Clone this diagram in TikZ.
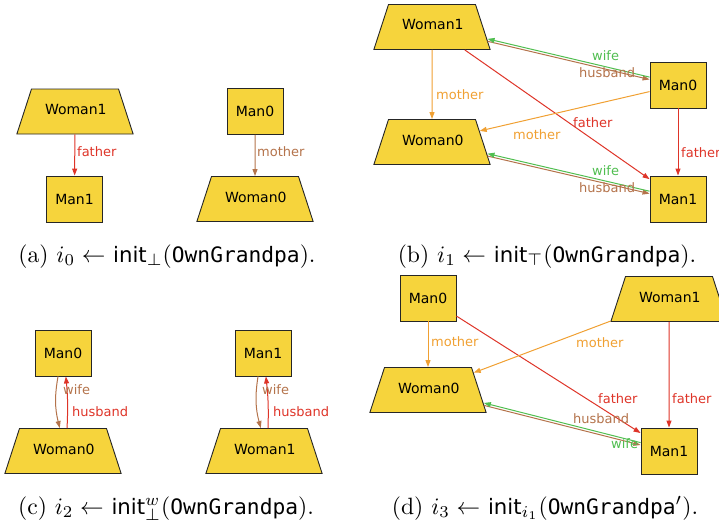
\documentclass[tikz,border=0pt]{standalone}
\usepackage{fontspec}
\newfontfamily\nodefont{DejaVu Sans}
\newfontfamily\capsf[Scale=0.9]{DejaVu Sans}
\newfontfamily\captt[Scale=0.9]{DejaVu Sans Mono}
\usetikzlibrary{arrows.meta,shapes.geometric}
\definecolor{relred}{RGB}{222,52,40}
\definecolor{relorange}{RGB}{240,160,50}
\definecolor{relbrown}{RGB}{180,115,75}
\definecolor{relgreen}{RGB}{80,190,80}
\definecolor{nodeyellow}{RGB}{246,212,60}
\tikzset{
      person/.style = { draw=black!85, fill=nodeyellow, line width=0.9pt,
                        font=\nodefont\fontsize{14}{16}\selectfont },
         man/.style = { person, inner sep=0pt, minimum width=56pt, minimum height=46pt },
       woman/.style = { person, trapezium, trapezium left angle=72, trapezium right angle=72,
                        text width=60pt, align=center, text height=9pt, text depth=3pt,
                        inner xsep=13.5pt, inner ysep=16.5pt },
         rel/.style = { line width=1pt, -{Triangle[length=7pt,width=5pt]} },
      father/.style = { rel, relred },
      mother/.style = { rel, relorange },
    brownrel/.style = { rel, relbrown },
    greenrel/.style = { rel, relgreen },
    edgetext/.style = { anchor=west, inner sep=0pt, font=\nodefont\fontsize{13}{15}\selectfont },
     caption/.style = { anchor=base, inner sep=0pt, scale=2.36, font=\normalsize }
}

\begin{document}
\begin{tikzpicture}[x=1pt, y=-1pt]
  \useasboundingbox (0,0) rectangle (719,527);

  % (a)
  \node (a-w1) at (75,111.5)  [woman] {Woman1};
  \node (a-m1) at (74.5,199)  [man]   {Man1};
  \node (a-m0) at (255,111.5) [man]   {Man0};
  \node (a-w0) at (255,199)   [woman] {Woman0};

  \draw [father]   (a-w1) -- (a-m1);
  \draw [brownrel] (a-m0) -- (a-w0);
  \node (a-lf) at (77,152)  [edgetext, text=relred]   {father};
  \node (a-lm) at (257,152) [edgetext, text=relbrown] {mother};

  \node (a-cap) at (167,262) [caption]
    {(a) $i_0 \leftarrow$ {\capsf init}$_\bot$({\captt OwnGrandpa}).};

  % (b)
  \node (b-w1) at (432,27)  [woman] {Woman1};
  \node (b-m0) at (678,85)  [man]   {Man0};
  \node (b-w0) at (432,142) [woman] {Woman0};
  \node (b-m1) at (678,199) [man]   {Man1};

  \draw [mother] (b-w1) -- (b-w0);
  \draw [father] (b-w1) -- (b-m1);
  \draw [mother] (b-m0) -- (b-w0);
  \draw [father] (b-m0) -- (b-m1);
  \draw [brownrel, transform canvas={yshift=-1.2pt}] (b-w1) -- (b-m0);
  \draw [greenrel, transform canvas={yshift=1.2pt}]  (b-m0) -- (b-w1);
  \draw [brownrel, transform canvas={yshift=-1.2pt}] (b-w0) -- (b-m1);
  \draw [greenrel, transform canvas={yshift=1.2pt}]  (b-m1) -- (b-w0);

  \node (b-lm1) at (436,95)  [edgetext, text=relorange] {mother};
  \node (b-lf1) at (573,123) [edgetext, text=relred]    {father};
  \node (b-lm2) at (513,135) [edgetext, text=relorange] {mother};
  \node (b-lf2) at (681,153) [edgetext, text=relred]    {father};
  \node (b-lw1) at (592,56)  [edgetext, text=relgreen]  {wife};
  \node (b-lh1) at (579,73)  [edgetext, text=relbrown]  {husband};
  \node (b-lw2) at (592,171) [edgetext, text=relgreen]  {wife};
  \node (b-lh2) at (579,188) [edgetext, text=relbrown]  {husband};

  \node (b-cap) at (547,262) [caption]
    {(b) $i_1 \leftarrow$ {\capsf init}$_\top$({\captt OwnGrandpa}).};

  % (c)
  \node (c-m0) at (63,353)  [man]   {Man0};
  \node (c-w0) at (63,451)  [woman] {Woman0};
  \node (c-m1) at (263,353) [man]   {Man1};
  \node (c-w1) at (264,451) [woman] {Woman1};

  \draw [brownrel] (c-m0.-102) to[bend right=12] (c-w0.98);
  \draw [father]   (c-w0.80)   to[bend right=4]  (c-m0.-83);
  \draw [brownrel] (c-m1.-102) to[bend right=12] (c-w1.98);
  \draw [father]   (c-w1.80)   to[bend right=4]  (c-m1.-83);

  \node (c-lw1) at (63,390)  [edgetext, text=relbrown] {wife};
  \node (c-lh1) at (72,412)  [edgetext, text=relred]   {husband};
  \node (c-lw2) at (262,390) [edgetext, text=relbrown] {wife};
  \node (c-lh2) at (273,412) [edgetext, text=relred]   {husband};

  \node (c-cap) at (166,514) [caption]
    {(c) $i_2 \leftarrow$ {\capsf init}$^w_\bot$({\captt OwnGrandpa}).};

  % (d)
  \node (d-m0) at (428,298) [man]   {Man0};
  \node (d-w1) at (669,299) [woman] {Woman1};
  \node (d-w0) at (428,390) [woman] {Woman0};
  \node (d-m1) at (669,451) [man]   {Man1};

  \draw [mother] (d-m0) -- (d-w0);
  \draw [father] (d-m0) -- (d-m1);
  \draw [mother] (d-w1) -- (d-w0);
  \draw [father] (d-w1) -- (d-m1);
  \draw [brownrel, transform canvas={yshift=-1.2pt}] (d-w0) -- (d-m1);
  \draw [greenrel, transform canvas={yshift=1.2pt}]  (d-m1) -- (d-w0);

  \node (d-lm1) at (431,342) [edgetext, text=relorange] {mother};
  \node (d-lm2) at (576,343) [edgetext, text=relorange] {mother};
  \node (d-lf1) at (598,399) [edgetext, text=relred]    {father};
  \node (d-lf2) at (672,399) [edgetext, text=relred]    {father};
  \node (d-lh)  at (573,419) [edgetext, text=relbrown]  {husband};
  \node (d-lw)  at (611,444) [edgetext, text=relgreen]  {wife};

  \node (d-cap) at (545,514) [caption]
    {(d) $i_3 \leftarrow$ {\capsf init}$_{i_1}$({\captt OwnGrandpa}$'$).};
\end{tikzpicture}
\end{document}
